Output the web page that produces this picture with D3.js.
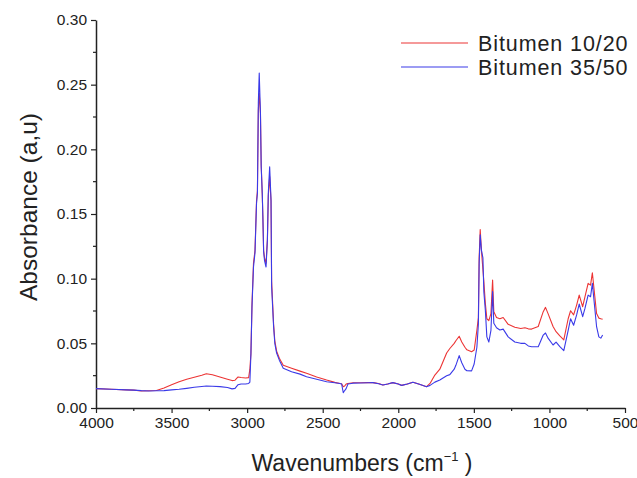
<!DOCTYPE html>
<html><head><meta charset="utf-8">
<script src="https://cdn.jsdelivr.net/npm/d3@7"></script>
<style>body{margin:0;background:#fff}svg{display:block}</style>
</head><body>
<svg id="c" width="637" height="478"></svg>
<script>
const wavenumbers = [4000,3900,3800,3750,3700,3650,3600,3550,3500,3450,3400,3350,3300,3270,3230,3180,3130,3100,3080,3060,3040,3010,2990,2982,2975,2968,2958,2948,2938,2932,2926,2920,2912,2907,2900,2896,2891,2885,2875,2866,2860,2851,2842,2838,2825,2817,2805,2787,2761,2706,2650,2607,2540,2474,2420,2386,2375,2364,2355,2345,2333,2300,2250,2200,2168,2130,2102,2070,2036,2000,1978,1940,1903,1860,1813,1790,1758,1725,1680,1659,1630,1619,1597,1580,1559,1546,1515,1498,1480,1470,1465,1458,1450,1440,1434,1424,1414,1401,1387,1376,1368,1350,1328,1306,1273,1229,1190,1162,1140,1118,1074,1041,1026,1009,976,956,931,905,876,860,840,820,803,780,765,744,728,716,704,688,673,660,648];
const bitumen1020 = [0.0150,0.0145,0.0140,0.0138,0.0132,0.0133,0.0135,0.0155,0.0180,0.0203,0.0222,0.0238,0.0253,0.0265,0.0257,0.0240,0.0222,0.0212,0.0215,0.0240,0.0236,0.0232,0.0235,0.0300,0.0420,0.0800,0.1120,0.1220,0.1600,0.1680,0.2300,0.2435,0.2280,0.1880,0.1650,0.1480,0.1220,0.1160,0.1120,0.1300,0.1640,0.1790,0.1600,0.0980,0.0650,0.0520,0.0440,0.0385,0.0330,0.0307,0.0285,0.0268,0.0240,0.0216,0.0198,0.0190,0.0188,0.0165,0.0170,0.0185,0.0190,0.0195,0.0195,0.0196,0.0196,0.0190,0.0178,0.0185,0.0196,0.0185,0.0175,0.0185,0.0199,0.0183,0.0165,0.0190,0.0255,0.0300,0.0425,0.0460,0.0500,0.0520,0.0555,0.0510,0.0470,0.0450,0.0435,0.0448,0.0600,0.0700,0.1160,0.1380,0.1220,0.1070,0.0980,0.0810,0.0690,0.0675,0.0730,0.0990,0.0745,0.0700,0.0690,0.0700,0.0647,0.0624,0.0615,0.0620,0.0612,0.0610,0.0630,0.0745,0.0778,0.0730,0.0630,0.0590,0.0557,0.0526,0.0690,0.0752,0.0720,0.0796,0.0873,0.0783,0.0860,0.0964,0.0950,0.1046,0.0910,0.0730,0.0695,0.0690,0.0686];
const bitumen3550 = [0.0150,0.0145,0.0140,0.0138,0.0134,0.0132,0.0133,0.0134,0.0140,0.0145,0.0152,0.0160,0.0166,0.0170,0.0168,0.0165,0.0158,0.0148,0.0152,0.0180,0.0186,0.0186,0.0190,0.0200,0.0420,0.0780,0.1090,0.1200,0.1580,0.1660,0.2360,0.2590,0.2280,0.1865,0.1660,0.1480,0.1210,0.1140,0.1090,0.1300,0.1660,0.1865,0.1610,0.0940,0.0630,0.0500,0.0425,0.0370,0.0307,0.0280,0.0262,0.0242,0.0222,0.0203,0.0195,0.0190,0.0186,0.0118,0.0135,0.0150,0.0185,0.0192,0.0193,0.0195,0.0196,0.0188,0.0178,0.0185,0.0196,0.0185,0.0175,0.0185,0.0199,0.0183,0.0165,0.0175,0.0200,0.0216,0.0250,0.0258,0.0300,0.0330,0.0405,0.0350,0.0300,0.0288,0.0287,0.0340,0.0470,0.0650,0.1120,0.1340,0.1220,0.1160,0.0900,0.0757,0.0550,0.0510,0.0600,0.0900,0.0655,0.0620,0.0603,0.0610,0.0550,0.0510,0.0500,0.0500,0.0480,0.0474,0.0474,0.0564,0.0580,0.0540,0.0487,0.0510,0.0474,0.0443,0.0600,0.0690,0.0640,0.0720,0.0804,0.0706,0.0770,0.0873,0.0860,0.0964,0.0820,0.0630,0.0550,0.0540,0.0564];
const seriesNames = ["Bitumen 10/20","Bitumen 35/50"];
const seriesColors = ["#ec3434","#3a3ae8"];
const xTicks = [4000,3500,3000,2500,2000,1500,1000,500];
const yTicks = [0.00,0.05,0.10,0.15,0.20,0.25,0.30];

const svg = d3.select("#c");
const x = d3.scaleLinear().domain([4000,500]).range([96,625]);
const y = d3.scaleLinear().domain([0,0.30]).range([408,20]);
const font = "Liberation Sans, Arial, sans-serif";

// minor ticks
const xMinor = d3.range(4000, 499, -250).filter(v => !xTicks.includes(v));
const yMinor = d3.range(0.025, 0.30, 0.05);
svg.append("g").selectAll("line").data(xMinor).join("line")
  .attr("x1", d => x(d)).attr("x2", d => x(d)).attr("y1", 408).attr("y2", 411)
  .attr("stroke", "#222").attr("stroke-width", 1.2);
svg.append("g").selectAll("line").data(yMinor).join("line")
  .attr("y1", d => y(d)).attr("y2", d => y(d)).attr("x1", 93).attr("x2", 96)
  .attr("stroke", "#222").attr("stroke-width", 1.2);

const xAxis = svg.append("g").attr("transform", "translate(0,408)")
  .call(d3.axisBottom(x).tickValues(xTicks).tickFormat(d3.format("d")).tickSizeInner(5).tickSizeOuter(0).tickPadding(4));
const yAxis = svg.append("g").attr("transform", "translate(96,0)")
  .call(d3.axisLeft(y).tickValues(yTicks).tickFormat(d3.format(".2f")).tickSizeInner(5).tickSizeOuter(0).tickPadding(4));
[xAxis, yAxis].forEach(g => {
  g.select(".domain").attr("stroke", "#222").attr("stroke-width", 1.5);
  g.selectAll(".tick line").attr("stroke", "#222").attr("stroke-width", 1.2);
  g.selectAll("text").attr("font-family", font).attr("font-size", 15.5).attr("fill", "#222");
});

const line = (vals) => d3.line().x((d, i) => x(wavenumbers[i])).y(d => y(d))(vals);
[bitumen1020, bitumen3550].forEach((vals, k) => {
  svg.append("path").attr("d", line(vals)).attr("fill", "none")
    .attr("stroke", seriesColors[k]).attr("stroke-width", 1.1).attr("stroke-linejoin", "round");
});

// legend
seriesNames.forEach((name, k) => {
  const ly = 43 + k * 24;
  svg.append("line").attr("x1", 401).attr("x2", 468).attr("y1", ly).attr("y2", ly)
    .attr("stroke", seriesColors[k]).attr("stroke-width", 1.2);
  svg.append("text").attr("x", 478).attr("y", ly + 8).text(name)
    .attr("font-family", font).attr("font-size", 21.5).attr("letter-spacing", 0.9).attr("fill", "#222");
});

// axis titles
const xt = svg.append("text").attr("x", 362).attr("y", 471).attr("text-anchor", "middle")
  .attr("font-family", font).attr("font-size", 23).attr("fill", "#222");
xt.append("tspan").text("Wavenumbers (cm");
xt.append("tspan").attr("dy", -10).attr("font-size", 13).text("\u2212" + "1");
xt.append("tspan").attr("dy", 10).text(" )");

svg.append("text").attr("transform", "translate(37,207) rotate(-90)").attr("text-anchor", "middle")
  .attr("font-family", font).attr("font-size", 24.5).attr("fill", "#222").text("Absorbance (a,u)");
</script>
</body></html>
